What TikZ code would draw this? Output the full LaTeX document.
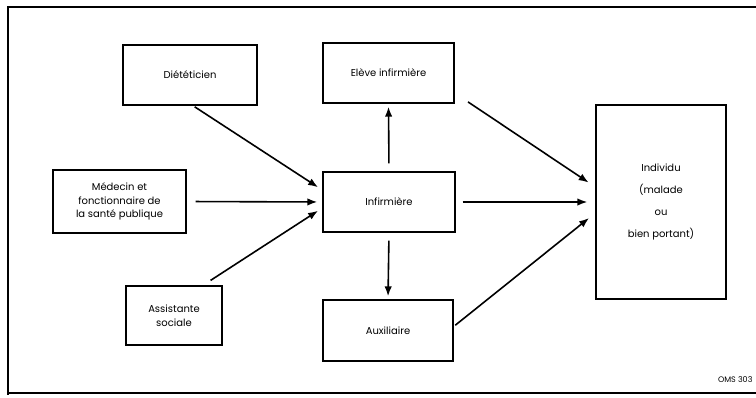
\documentclass[tikz,border=0pt]{standalone}
\usepackage{fontspec}
\setmainfont{Poppins}
\usetikzlibrary{arrows.meta}
\begin{document}
\begin{tikzpicture}[x=1pt,y=-1pt,
  box/.style={draw,line width=1.4pt,rectangle,align=center,inner sep=2pt,
    font=\fontsize{10}{13.5}\selectfont},
  arr/.style={line width=1.6pt,-{Latex[length=10pt,width=7.5pt]}}]
\useasboundingbox (0,0) rectangle (756,397);
% frame
\draw[line width=1.2pt] (756,7) -- (8,7) -- (8,395);
\draw[line width=1.2pt] (8,393) -- (756,393);
% nodes
\node[box,minimum width=134pt,minimum height=60pt] (diet) at (190,75) {Diététicien};
\node[box,minimum width=131pt,minimum height=60pt] (eleve) at (388.5,73) {Elève infirmière};
\node[box,minimum width=133pt,minimum height=63pt] (med) at (119.5,201.5) {Médecin et\\fonctionnaire de\\la santé publique};
\node[box,minimum width=132pt,minimum height=60pt] (inf) at (389,202) {Infirmière};
\node[box,minimum width=96pt,minimum height=59pt] (asst) at (174,315.5) {Assistante\\sociale};
\node[box,minimum width=130pt,minimum height=61pt] (aux) at (388,330.5) {Auxiliaire};
\node[box,minimum width=130pt,minimum height=194pt,
  font=\fontsize{10}{22}\selectfont] (ind) at (661,202) {Individu\\(malade\\ou\\bien portant)};
\node[font=\fontsize{8}{9}\selectfont,anchor=east] (oms) at (756,380) {OMS 303};
% arrows
\draw[arr,shorten <=2pt,shorten >=5pt] ([xshift=3pt]diet.south) -- ([yshift=12pt]inf.west);
\draw[arr,shorten <=9pt,shorten >=5pt] (med.east) -- (inf.west);
\draw[arr,shorten <=9pt,shorten >=5pt] ([xshift=29pt]asst.north) -- ([yshift=-6pt]inf.west);
\draw[arr,shorten <=8pt,shorten >=3pt] (inf.north) -- (eleve.south);
\draw[arr,shorten <=8pt,shorten >=3pt] (inf.south) -- (aux.north);
\draw[arr,shorten <=16pt,shorten >=8pt] ([yshift=-20pt]eleve.east) -- ([yshift=15pt]ind.west);
\draw[arr,shorten <=7pt,shorten >=8pt] (inf.east) -- (ind.west);
\draw[arr,shorten <=2pt,shorten >=8pt] ([yshift=4pt]aux.east) -- ([yshift=-11pt]ind.west);
\end{tikzpicture}
\end{document}
